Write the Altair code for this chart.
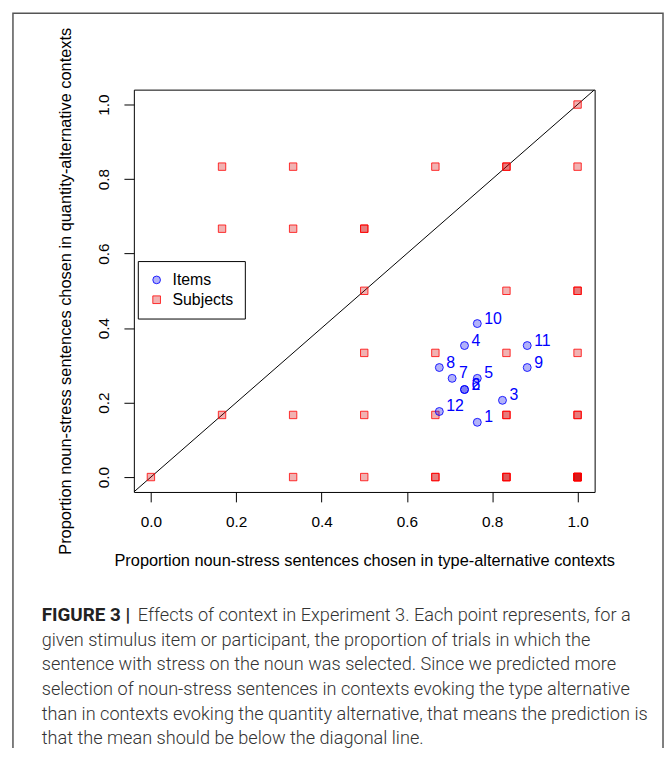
import altair as alt
import pandas as pd

# ---------------- data ----------------
item_ids = ["1", "2", "3", "4", "5", "6", "7", "8", "9", "10", "11", "12"]
item_x = [0.765, 0.735, 0.824, 0.735, 0.765, 0.735, 0.706, 0.676, 0.882, 0.765, 0.882, 0.676]
item_y = [0.147, 0.235, 0.206, 0.353, 0.265, 0.235, 0.265, 0.294, 0.294, 0.412, 0.353, 0.176]

subj_x = [1.0,
          0.1667, 0.3333, 0.6667, 0.8333, 1.0,
          0.1667, 0.3333, 0.5,
          0.5, 0.8333, 1.0,
          0.5, 0.6667, 0.8333, 1.0,
          0.1667, 0.3333, 0.5, 0.6667, 0.8333, 1.0,
          0.0, 0.3333, 0.5, 0.6667, 0.8333, 1.0]
subj_y = [1.0,
          0.8333, 0.8333, 0.8333, 0.8333, 0.8333,
          0.6667, 0.6667, 0.6667,
          0.5, 0.5, 0.5,
          0.3333, 0.3333, 0.3333, 0.3333,
          0.1667, 0.1667, 0.1667, 0.1667, 0.1667, 0.1667,
          0.0, 0.0, 0.0, 0.0, 0.0, 0.0]
subj_n = [1,
          1, 1, 1, 2, 1,
          1, 1, 2,
          1, 1, 2,
          1, 1, 1, 1,
          1, 1, 1, 1, 2, 2,
          1, 1, 1, 2, 3, 6]

axis_ticks = [0.0, 0.2, 0.4, 0.6, 0.8, 1.0]
axis_range = [-0.04, 1.04]
groups = ["Items", "Subjects"]

x_title = "Proportion noun-stress sentences chosen in type-alternative contexts"
y_title = "Proportion noun-stress sentences chosen in quantity-alternative contexts"

caption_bold = "FIGURE 3 |"
caption_first = "Effects of context in Experiment 3. Each point represents, for a"
caption_rest = [
    "given stimulus item or participant, the proportion of trials in which the",
    "sentence with stress on the noun was selected. Since we predicted more",
    "selection of noun-stress sentences in contexts evoking the type alternative",
    "than in contexts evoking the quantity alternative, that means the prediction is",
    "that the mean should be below the diagonal line.",
]

# ---------------- tables ----------------
items = pd.DataFrame({"x": item_x, "y": item_y, "label": item_ids, "group": "Items"})
rows = []
for sx, sy, n in zip(subj_x, subj_y, subj_n):
    for _ in range(n):
        rows.append({"x": sx, "y": sy, "group": "Subjects"})
subjects = pd.DataFrame(rows)
diag = pd.DataFrame({"x": axis_range, "y": axis_range})
one = pd.DataFrame({"k": [0]})

FONT = "Liberation Sans"
xs = alt.Scale(domain=axis_range, nice=False, zero=False)
ys = alt.Scale(domain=axis_range, nice=False, zero=False)

x_axis = alt.Axis(values=axis_ticks, format=".1f", grid=False, domain=False,
                  tickSize=10, tickColor="black", labelPadding=13,
                  labelFont=FONT, labelFontSize=15.5, labelColor="black",
                  title=x_title, titleFont=FONT, titleFontSize=16.5,
                  titleFontWeight="normal", titleColor="black",
                  titleX=232.5, titleY=69, titleBaseline="middle", titleAlign="center")
y_axis = alt.Axis(values=axis_ticks, format=".1f", grid=False, domain=False,
                  tickSize=10, tickColor="black", labelPadding=13,
                  labelAngle=270, labelAlign="center", labelBaseline="bottom",
                  labelFont=FONT, labelFontSize=15.5, labelColor="black",
                  title=y_title, titleFont=FONT, titleFontSize=16.5,
                  titleFontWeight="normal", titleColor="black", titleAngle=270,
                  titleX=-69, titleY=203, titleBaseline="middle", titleAlign="center")

X = alt.X("x:Q", scale=xs, axis=x_axis)
Y = alt.Y("y:Q", scale=ys, axis=y_axis)

leg = alt.Legend(orient="none", legendX=4, legendY=173, title=None,
                 padding=11, strokeColor="black", fillColor="white",
                 labelFont=FONT, labelFontSize=16, labelColor="black",
                 labelOffset=8, rowPadding=4, symbolSize=60, symbolStrokeWidth=1)

fill_enc = alt.Fill("group:N", scale=alt.Scale(domain=groups,
                    range=["rgba(0,0,235,0.3)", "rgba(210,0,0,0.3)"]), legend=leg)
stroke_enc = alt.Stroke("group:N", scale=alt.Scale(domain=groups,
                        range=["rgba(0,0,255,0.85)", "rgba(255,0,0,0.8)"]), legend=leg)
shape_enc = alt.Shape("group:N", scale=alt.Scale(domain=groups,
                      range=["circle", "square"]), legend=leg)

border = alt.Chart(one).mark_rect(fill="transparent", stroke="#555", strokeWidth=1.5).encode(
    x=alt.value(-122), x2=alt.value(534), y=alt.value(-77), y2=alt.value(720))

diag_line = alt.Chart(diag).mark_line(color="black", strokeWidth=1, clip=True).encode(x=X, y=Y)

subj_pts = alt.Chart(subjects).mark_point(size=56, strokeWidth=1, opacity=1).encode(
    x=X, y=Y, fill=fill_enc, stroke=stroke_enc, shape=shape_enc)

item_pts = alt.Chart(items).mark_point(size=64, strokeWidth=1, opacity=1).encode(
    x=X, y=Y, fill=fill_enc, stroke=stroke_enc, shape=shape_enc)

item_lbl = alt.Chart(items).mark_text(align="left", baseline="middle", dx=7, dy=-5,
                                      font=FONT, fontSize=16, color="blue").encode(
    x=X, y=Y, text="label:N")

CAP_FONT = "Roboto"
CAP_SIZE = 18.3
cap_color = "#333333"
cap_y0 = 536.5
cap_lh = 24.8
cap1 = alt.Chart(one).mark_text(align="left", baseline="alphabetic", font=CAP_FONT,
                                fontSize=19, fontWeight="bold", color="#222222").encode(
    x=alt.value(-93), y=alt.value(cap_y0), text=alt.value(caption_bold))
cap2 = alt.Chart(one).mark_text(align="left", baseline="alphabetic", font=CAP_FONT,
                                fontSize=CAP_SIZE, fontWeight=300, color=cap_color).encode(
    x=alt.value(4), y=alt.value(cap_y0), text=alt.value(caption_first))
cap3 = alt.Chart(one).mark_text(align="left", baseline="alphabetic", font=CAP_FONT,
                                fontSize=CAP_SIZE, fontWeight=300, color=cap_color,
                                lineHeight=cap_lh).encode(
    x=alt.value(-93), y=alt.value(cap_y0 + cap_lh), text=alt.value(caption_rest))

chart = alt.layer(border, diag_line, subj_pts, item_pts, item_lbl, cap1, cap2, cap3).properties(
    width=465, height=406,
    background="white",
    autosize=alt.AutoSizeParams(type="none"),
    padding={"left": 127, "top": 79, "right": 70, "bottom": 255},
).configure_view(stroke="black", strokeWidth=1)

chart.save("out.html", embed_options={"renderer": "svg", "actions": False})
